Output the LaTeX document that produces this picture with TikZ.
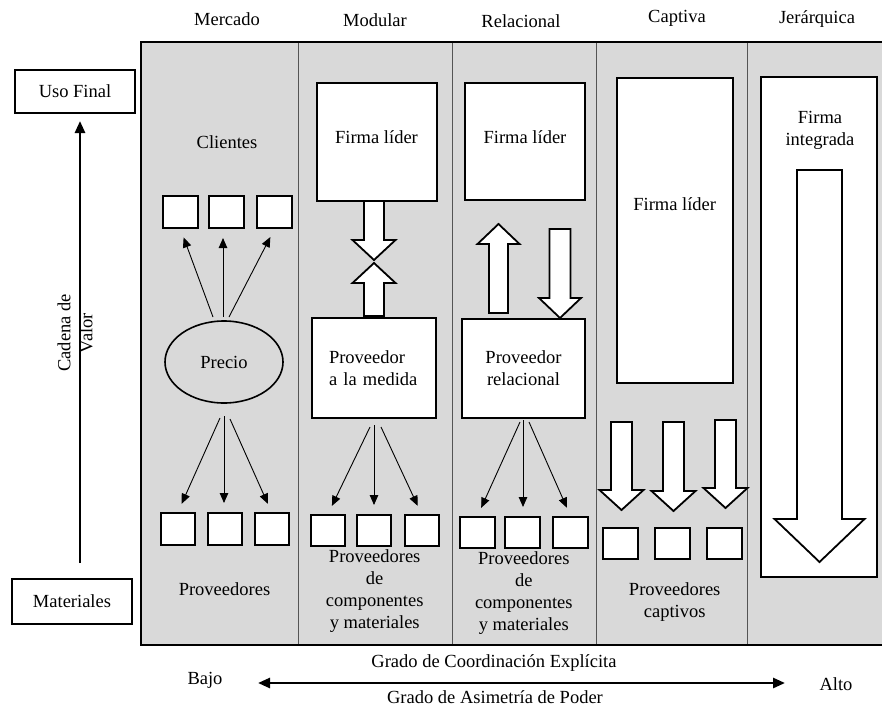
\documentclass[tikz,border=0pt]{standalone}
\usepackage{fontspec}
\setmainfont{Liberation Serif}
\usetikzlibrary{arrows.meta,shapes.geometric}

\definecolor{panelgray}{HTML}{D9D9D9}
\definecolor{divgray}{HTML}{555555}

\tikzset{
  lbl/.style={font=\fontsize{18.5}{22}\selectfont, inner sep=0pt},
  txt/.style={lbl, anchor=base},
  bigbox/.style={draw, fill=white, line width=2pt, inner sep=0pt},
  sq/.style={draw, fill=white, line width=2pt, minimum width=35, minimum height=32, inner sep=0pt},
  thinarrow/.style={line width=0.9pt, -{Triangle[length=10pt,width=8.5pt]}, shorten >=9pt},
  chainarrow/.style={line width=2.6pt, -{Triangle[length=12pt,width=10pt]}},
  axisarrow/.style={line width=2.6pt, {Triangle[length=12pt,width=10pt]}-{Triangle[length=12pt,width=10pt]}},
  hollow/.style={draw, fill=white, line width=1.8pt, line join=miter},
  % hollow block arrow pointing along +y: length / shaft half width / head half width / head length
  pics/hollowarrow/.style args={#1/#2/#3/#4}{code={
    \path[hollow] (-#2,0) -- (-#2,#1-#4) -- (-#3,#1-#4) -- (0,#1) -- (#3,#1-#4) -- (#2,#1-#4) -- (#2,0) -- cycle;
  }}
}

\begin{document}
\begin{tikzpicture}[x=1pt,y=-1pt]
\useasboundingbox (0,0) rectangle (882,709);

% shaded governance panel and column dividers
\fill[panelgray] (141,42) rectangle (886,645);
\draw[line width=2pt] (886,42) -- (141,42) -- (141,645) -- (886,645);
\foreach \xd in {298,452,596.5,747}
  \draw[divgray, line width=1pt] (\xd,43) -- (\xd,644);

% column headings
\node[txt] (hMercado) at (227,26) {Mercado};
\node[txt] (hModular) at (375,26.5) {Modular};
\node[txt] (hRelacional) at (521,27.5) {Relacional};
\node[txt] (hCaptiva) at (677,22.5) {Captiva};
\node[txt] (hJerarquica) at (817,24) {Jerárquica};

% value chain axis
\node[bigbox, lbl, minimum width=120, minimum height=43] (usofinal) at (75,91) {Uso Final};
\node[bigbox, lbl, minimum width=120, minimum height=45] (materiales) at (72,601.5) {Materiales};
\coordinate (vcLow) at (80,563);
\coordinate (vcHigh) at (80,121);
\draw[chainarrow] (vcLow) -- (vcHigh);
\node[lbl, rotate=90, align=center] (cadena) at (75,333) {Cadena de\\Valor};

% --- Mercado ---
\node[txt] (clientes) at (227,148) {Clientes};
\node[sq] (c1) at (180.5,212) {};
\node[sq] (c2) at (226.5,212) {};
\node[sq] (c3) at (274.5,212) {};
\node[draw, ellipse, line width=1.6pt, fill=panelgray, minimum width=118, minimum height=82, lbl] (precio) at (224,362) {Precio};
\coordinate (pu1) at (213,317);
\coordinate (pu2) at (223,317);
\coordinate (pu3) at (229,317);
\draw[thinarrow] (pu1) -- (c1.south);
\draw[thinarrow] (pu2) -- (c2.south -| pu2);
\draw[thinarrow] (pu3) -- (c3.south);
\node[sq, minimum width=34] (m1) at (178,529) {};
\node[sq, minimum width=34] (m2) at (224.5,529) {};
\node[sq, minimum width=34] (m3) at (271.5,529) {};
\coordinate (pd1) at (220,418);
\coordinate (pd2) at (224,416);
\coordinate (pd3) at (230,419);
\draw[thinarrow] (pd1) -- (m1.north);
\draw[thinarrow] (pd2) -- (m2.north -| pd2);
\draw[thinarrow] (pd3) -- (m3.north);
\node[txt] (provMercado) at (224.5,595) {Proveedores};

% --- Modular ---
\node[bigbox, lbl, minimum width=120, minimum height=118] (liderMod) at (377,142) {};
\node[txt] (liderModTxt) at (376.5,143) {Firma líder};
\pic at (374,201) {hollowarrow={59/10/21.5/20}};
\pic[rotate=180] at (374,316) {hollowarrow={53/10/21.5/20}};
\node[bigbox, lbl, minimum width=124, minimum height=100, text width=90, align=left] (provMedida) at (374,368) {Proveedor\\a la medida};
\coordinate (md1) at (370,427);
\coordinate (md2) at (374,425);
\coordinate (md3) at (381,427);
\node[sq, minimum width=34, minimum height=31] (s1) at (328,530.5) {};
\node[sq, minimum width=34, minimum height=31] (s2) at (374,530.5) {};
\node[sq, minimum width=34, minimum height=31] (s3) at (421.5,530.5) {};
\draw[thinarrow] (md1) -- (s1.north);
\draw[thinarrow] (md2) -- (s2.north -| md2);
\draw[thinarrow] (md3) -- (s3.north);
% multi-line labels: the base anchor sits on the last line
\node[lbl, align=center, anchor=base] (provMod) at (374.7,628) {Proveedores\\de\\componentes\\y materiales};

% --- Relacional ---
\node[bigbox, lbl, minimum width=120, minimum height=117] (liderRel) at (525,141) {};
\node[txt] (liderRelTxt) at (525,143) {Firma líder};
\pic[rotate=180] at (498.5,313) {hollowarrow={89/9.5/21/20}};
\pic at (560,229) {hollowarrow={89/10.5/21/20}};
\node[bigbox, lbl, minimum width=123, minimum height=99, align=center] (provRel) at (523.5,368.5) {Proveedor\\relacional};
\coordinate (rd1) at (520,422);
\coordinate (rd2) at (523,420);
\coordinate (rd3) at (529,422);
\node[sq, minimum width=35, minimum height=31] (r1) at (477.5,532.5) {};
\node[sq, minimum width=35, minimum height=31] (r2) at (522.5,532.5) {};
\node[sq, minimum width=35, minimum height=31] (r3) at (570.5,532.5) {};
\draw[thinarrow] (rd1) -- (r1.north);
\draw[thinarrow] (rd2) -- (r2.north -| rd2);
\draw[thinarrow] (rd3) -- (r3.north);
\node[lbl, align=center, anchor=base] (provRelTxt) at (523.8,630) {Proveedores\\de\\componentes\\y materiales};

% --- Captiva ---
\node[bigbox, lbl, minimum width=116, minimum height=305] (liderCap) at (675,230.5) {};
\node[txt] (liderCapTxt) at (674.7,210) {Firma líder};
\pic at (621.5,422) {hollowarrow={88/10.5/22/20}};
\pic at (673.5,422) {hollowarrow={89/10.5/22/20}};
\pic at (725.5,420) {hollowarrow={88/10.5/22/20}};
\node[sq, minimum width=35, minimum height=31] (k1) at (620.5,543.5) {};
\node[sq, minimum width=35, minimum height=31] (k2) at (672.5,543.5) {};
\node[sq, minimum width=35, minimum height=31] (k3) at (724.5,543.5) {};
\node[lbl, align=center, anchor=base] (provCap) at (674.7,617) {Proveedores\\captivos};

% --- Jerárquica ---
\node[bigbox, lbl, minimum width=116, minimum height=500] (firmaInt) at (819,327) {};
\node[lbl, align=center, anchor=base] (firmaIntTxt) at (820,145) {Firma\\integrada};
\pic at (819.5,170) {hollowarrow={392/22.5/45/43}};

% bottom scale
\node[txt] (bajo) at (205,684) {Bajo};
\node[txt] (alto) at (836,690) {Alto};
\node[txt] (coord) at (494,667) {Grado de Coordinación Explícita};
\node[txt] (asim) at (495,703.5) {Grado de Asimetría de Poder};
\coordinate (axLow) at (258,683);
\coordinate (axHigh) at (785,683);
\draw[axisarrow] (axLow) -- (axHigh);
\end{tikzpicture}
\end{document}
